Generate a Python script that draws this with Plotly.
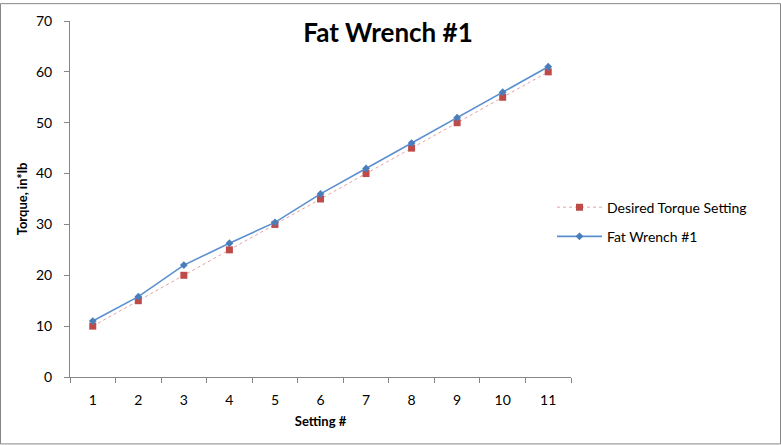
import plotly.graph_objects as go

settings = ["1", "2", "3", "4", "5", "6", "7", "8", "9", "10", "11"]
desired = [10, 15, 20, 25, 30, 35, 40, 45, 50, 55, 60]
fat_wrench = [11, 15.8, 22, 26.3, 30.4, 36, 41, 46, 51, 56, 61]

L, R, T, B = 70, 210, 18, 68
W, H = 781, 445
pw, ph = W - L - R, H - T - B
FONT = "Lato"

fig = go.Figure()
fig.add_trace(go.Scatter(
    x=settings, y=desired, name="Desired Torque Setting", mode="lines+markers",
    legendgroup="a",
    line=dict(color="#E8A0A0", width=1, dash="dot"),
    marker=dict(symbol="square", size=7, color="#BE4B48"),
))
fig.add_trace(go.Scatter(
    x=settings, y=fat_wrench, name="Fat Wrench #1", mode="lines+markers",
    legendgroup="b",
    line=dict(color="#5B8FD0", width=1.6),
    marker=dict(symbol="diamond", size=6, color="#4A7EBB"),
))

fig.update_layout(
    width=W, height=H,
    margin=dict(l=L, r=R, t=T, b=B),
    paper_bgcolor="white", plot_bgcolor="white",
    font=dict(family=FONT, size=14, color="#000000"),
    title=dict(text="<b>Fat Wrench #1</b>", x=388 / W, xanchor="center",
               y=1 - 33 / H, yanchor="middle", font=dict(size=26, family=FONT)),
    xaxis=dict(type="category", tickson="boundaries", ticks="outside", ticklen=5,
               tickcolor="#868686", showline=True, linecolor="#868686", linewidth=1,
               showgrid=False, zeroline=False, range=[-0.5, 10.5],
               ticklabelstandoff=10,
               title=dict(text="<b>Setting #</b>", font=dict(size=13), standoff=10),
               tickfont=dict(size=14)),
    yaxis=dict(range=[0, 70], dtick=10, ticks="outside", ticklen=5,
               tickcolor="#868686", showline=True, linecolor="#868686", linewidth=1,
               showgrid=False, zeroline=False, ticklabelstandoff=9,
               title=dict(text="<b>Torque, in*lb</b>", font=dict(size=13), standoff=5),
               tickfont=dict(size=14)),
    legend=dict(x=(552 - L) / pw, y=(377 - 190) / ph, xanchor="left", yanchor="top",
                font=dict(size=14), bgcolor="rgba(0,0,0,0)", tracegroupgap=8,
                itemwidth=45),
    shapes=[dict(type="rect", xref="paper", yref="paper",
                 x0=(0.5 - L) / pw, x1=(W - 0.5 - L) / pw,
                 y0=(T + ph - (H - 0.5)) / ph,
                 y1=(T + ph - 0.5) / ph,
                 line=dict(color="#868686", width=1), fillcolor="rgba(0,0,0,0)")],
)

fig.write_html("out.html")
